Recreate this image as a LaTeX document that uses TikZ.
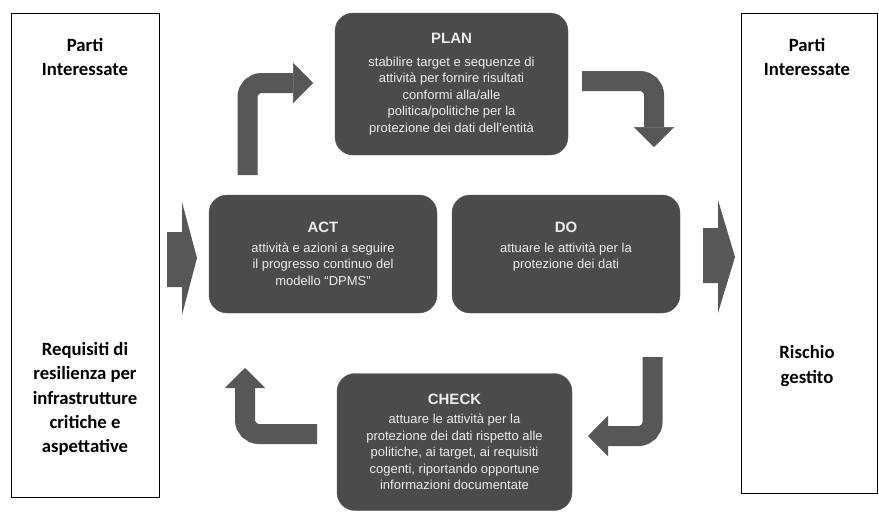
\documentclass[tikz,border=0pt]{standalone}
\usepackage{fontspec}
\setmainfont{Liberation Sans}
\newfontfamily\sidefont{Carlito}
\usetikzlibrary{arrows.meta}
\definecolor{boxgray}{HTML}{4B4B4B}
\definecolor{arrowgray}{HTML}{575757}
\definecolor{boxtext}{HTML}{EDEDED}
\tikzset{
  pdca/.style={fill=boxgray, draw=gray!70!black, rounded corners=18pt, text=boxtext, align=center,
    font=\fontsize{13}{16.5}\selectfont, inner sep=0pt},
  side/.style={draw=black, line width=1pt},
  sidetext/.style={align=center, font=\sidefont\bfseries\fontsize{18.7}{24.3}\selectfont},
  bent/.style={draw=arrowgray, line width=20pt, rounded corners=14pt,
    -{Triangle[length=20pt,width=40pt,line width=0.5pt]}},
  bigarrow/.style={fill=arrowgray},
}
\newcommand{\steptitle}[1]{{\fontsize{15}{18}\selectfont\bfseries #1}}
\begin{document}
\begin{tikzpicture}[x=1pt,y=-1pt]
\useasboundingbox (0,0) rectangle (879,517);
% side boxes
\node[side, minimum width=148pt, minimum height=484pt] (left) at (85,255) {};
\node[side, minimum width=136pt, minimum height=480pt] (right) at (809,253) {};
\node[sidetext, anchor=north] (lefttop) at (85,35) {Parti\\Interessate};
\node[sidetext] (leftreq) at (85,399) {Requisiti di\\resilienza per\\infrastrutture\\critiche e\\aspettative};
\node[sidetext, anchor=north] (righttop) at (807,35) {Parti\\Interessate};
\node[sidetext] (rightrisk) at (807,366) {Rischio\\gestito};
% PDCA boxes
\node[pdca, minimum width=233pt, minimum height=142pt] (plan) at (451.5,84)
  {\steptitle{PLAN}\\[6pt]stabilire target e sequenze di\\attività per fornire risultati\\conformi alla/alle\\politica/politiche per la\\protezione dei dati dell’entità};
\node[pdca, minimum width=228pt, minimum height=118pt] (act) at (323,254)
  {\steptitle{ACT}\\[3pt]attività e azioni a seguire\\il progresso continuo del\\modello “DPMS”};
\node[pdca, minimum width=228pt, minimum height=118pt] (do) at (566,254)
  {\steptitle{DO}\\[3pt]attuare le attività per la\\protezione dei dati\\ \mbox{}};
\node[pdca, minimum width=235pt, minimum height=137pt] (check) at (454.5,442)
  {\steptitle{CHECK}\\[3pt]attuare le attività per la\\protezione dei dati rispetto alle\\politiche, ai target, ai requisiti\\cogenti, riportando opportune\\informazioni documentate};
% big arrows in and out
\fill[bigarrow] (167,232) -- (182,232) -- (182,202) -- (197,258) -- (182,315) -- (182,287) -- (167,287) -- cycle;
\fill[bigarrow] (703,228) -- (718,228) -- (718,200) -- (735,257) -- (718,313) -- (718,283) -- (703,283) -- cycle;
% cycle arrows
\coordinate (actout) at (247.5,175);
\coordinate (planin) at (313,83);
\coordinate (planout) at (582,81);
\coordinate (doin) at (654,147);
\coordinate (doout) at (652.5,357);
\coordinate (checkin) at (588,436);
\coordinate (checkout) at (317,434);
\coordinate (actin) at (245,368);
\draw[bent] (actout) -- (actout |- planin) -- (planin);
\draw[bent] (planout) -- (planout -| doin) -- (doin);
\draw[bent] (doout) -- (doout |- checkin) -- (checkin);
\draw[bent] (checkout) -- (checkout -| actin) -- (actin);
\end{tikzpicture}
\end{document}
